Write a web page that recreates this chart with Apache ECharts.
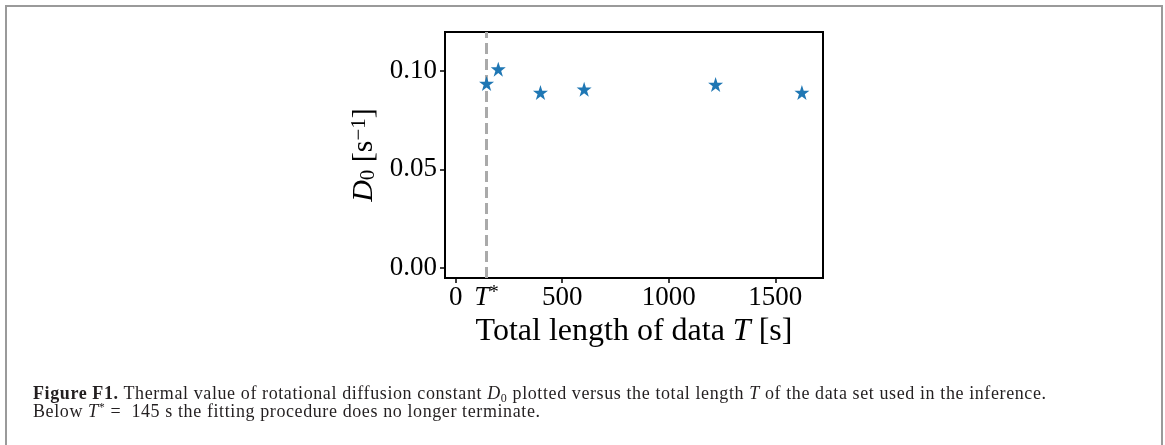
<!DOCTYPE html>
<html>
<head>
<meta charset="utf-8">
<script src="https://cdn.jsdelivr.net/npm/echarts@6/dist/echarts.min.js"></script>
<style>
  html, body { margin: 0; padding: 0; background: #fff; }
  #wrap { position: relative; width: 1165px; height: 445px; overflow: hidden; }
  #frame {
    position: absolute; left: 5px; top: 5px; width: 1154px; height: 460px;
    border: 2px solid #9a9a9a; border-bottom: none;
  }
  #chart { position: absolute; left: 0; top: 0; width: 1165px; height: 445px; }
  #caption {
    position: absolute; left: 33px; top: 384px; width: 1120px;
    font-family: 'Liberation Serif', serif; font-size: 18px; line-height: 18px;
    letter-spacing: 0.6px; color: #231f20; white-space: nowrap;
  }
  #caption b { font-weight: bold; }
  #caption sub { font-size: 12px; line-height: 0; vertical-align: -3px; }
  #caption sup { font-size: 12px; line-height: 0; vertical-align: 6px; }
</style>
</head>
<body>
<div id="wrap">
  <div id="frame"></div>
  <div id="chart"></div>
  <div id="caption">
    <b>Figure F1.</b> Thermal value of rotational diffusion constant <i>D</i><sub>0</sub> plotted versus the total length <i>T</i> of the data set used in the inference.<br>
    Below <i>T</i><sup>*</sup> = &nbsp;145 s the fitting procedure does no longer terminate.
  </div>
</div>
<script>
// total length of data T [s] and fitted D0 [1/s]
const totalLength = [145, 200, 398, 603, 1220, 1625];
const d0Values = [0.0937, 0.1010, 0.0891, 0.0908, 0.0932, 0.0891];
const tStar = 145;
const xTicks = [0, 500, 1000, 1500];
const xLabelValues = [0, 145, 500, 1000, 1500];
const yTicks = [0, 0.05, 0.1];

const STAR = 'path://M50,0 L61.8,35.1 L98.9,35.1 L69,56.9 L80.3,91.9 L50,70.2 L19.7,91.9 L31,56.9 L1.1,35.1 L38.2,35.1 Z';
const FONT = "'Liberation Serif', serif";

const chart = echarts.init(document.getElementById('chart'));

chart.setOption({
  animation: false,
  grid: {
    left: 445, right: 342, top: 32, bottom: 167,
    show: true, borderColor: '#000', borderWidth: 2,
  },
  xAxis: {
    type: 'value',
    min: -50,
    max: 1724,
    name: '{n|Total length of data }{it|T}{n| [s]}',
    nameLocation: 'middle',
    nameGap: 38,
    nameTextStyle: {
      rich: {
        n: { fontFamily: FONT, fontSize: 32, color: '#000' },
        it: { fontFamily: FONT, fontSize: 32, fontStyle: 'italic', color: '#000' },
      },
    },
    axisLine: { show: true, onZero: false, lineStyle: { color: '#000', width: 2 } },
    splitLine: { show: false },
    axisTick: {
      show: true, length: 5, customValues: xTicks,
      lineStyle: { color: '#000', width: 1.5 },
    },
    axisLabel: {
      customValues: xLabelValues,
      margin: 6,
      formatter: (v) => (v === tStar ? '{it|T}{sup|*}' : '{n|' + v + '}'),
      rich: {
        n: { fontFamily: FONT, fontSize: 27, color: '#000' },
        it: { fontFamily: FONT, fontSize: 27, fontStyle: 'italic', color: '#000' },
        sup: { fontFamily: FONT, fontSize: 19, color: '#000', verticalAlign: 'top', padding: [0, 0, 8, 0] },
      },
    },
  },
  yAxis: {
    type: 'value',
    min: -0.0053,
    max: 0.1199,
    name: '{it|D}{sub|0}{n| [s}{sup|\u22121}{n|]}',
    nameLocation: 'middle',
    nameRotate: 90,
    nameGap: 66,
    nameTextStyle: {
      rich: {
        n: { fontFamily: FONT, fontSize: 30, color: '#000' },
        it: { fontFamily: FONT, fontSize: 30, fontStyle: 'italic', color: '#000' },
        sub: { fontFamily: FONT, fontSize: 21, color: '#000', verticalAlign: 'bottom', padding: [9, 0, 0, 0] },
        sup: { fontFamily: FONT, fontSize: 21, color: '#000', verticalAlign: 'top', padding: [0, 0, 9, 0] },
      },
    },
    axisLine: { show: true, onZero: false, lineStyle: { color: '#000', width: 2 } },
    splitLine: { show: false },
    axisTick: {
      show: true, length: 5, customValues: yTicks,
      lineStyle: { color: '#000', width: 1.5 },
    },
    axisLabel: {
      customValues: yTicks,
      margin: 8,
      fontFamily: FONT,
      fontSize: 27,
      color: '#000',
      formatter: (v) => v.toFixed(2),
    },
  },
  series: [
    {
      // vertical dashed line at T*, kept below the stars
      type: 'line',
      data: [],
      z: 1,
      markLine: {
        silent: true,
        symbol: 'none',
        label: { show: false },
        lineStyle: { color: '#aaaaaa', type: [11, 5], width: 3, opacity: 1 },
        data: [{ xAxis: tStar }],
      },
    },
    {
      type: 'scatter',
      data: totalLength.map((t, i) => [t, d0Values[i]]),
      symbol: STAR,
      symbolSize: 15,
      itemStyle: { color: '#1f77b4', opacity: 1 },
      z: 5,
    },
  ],
});
</script>
</body>
</html>
